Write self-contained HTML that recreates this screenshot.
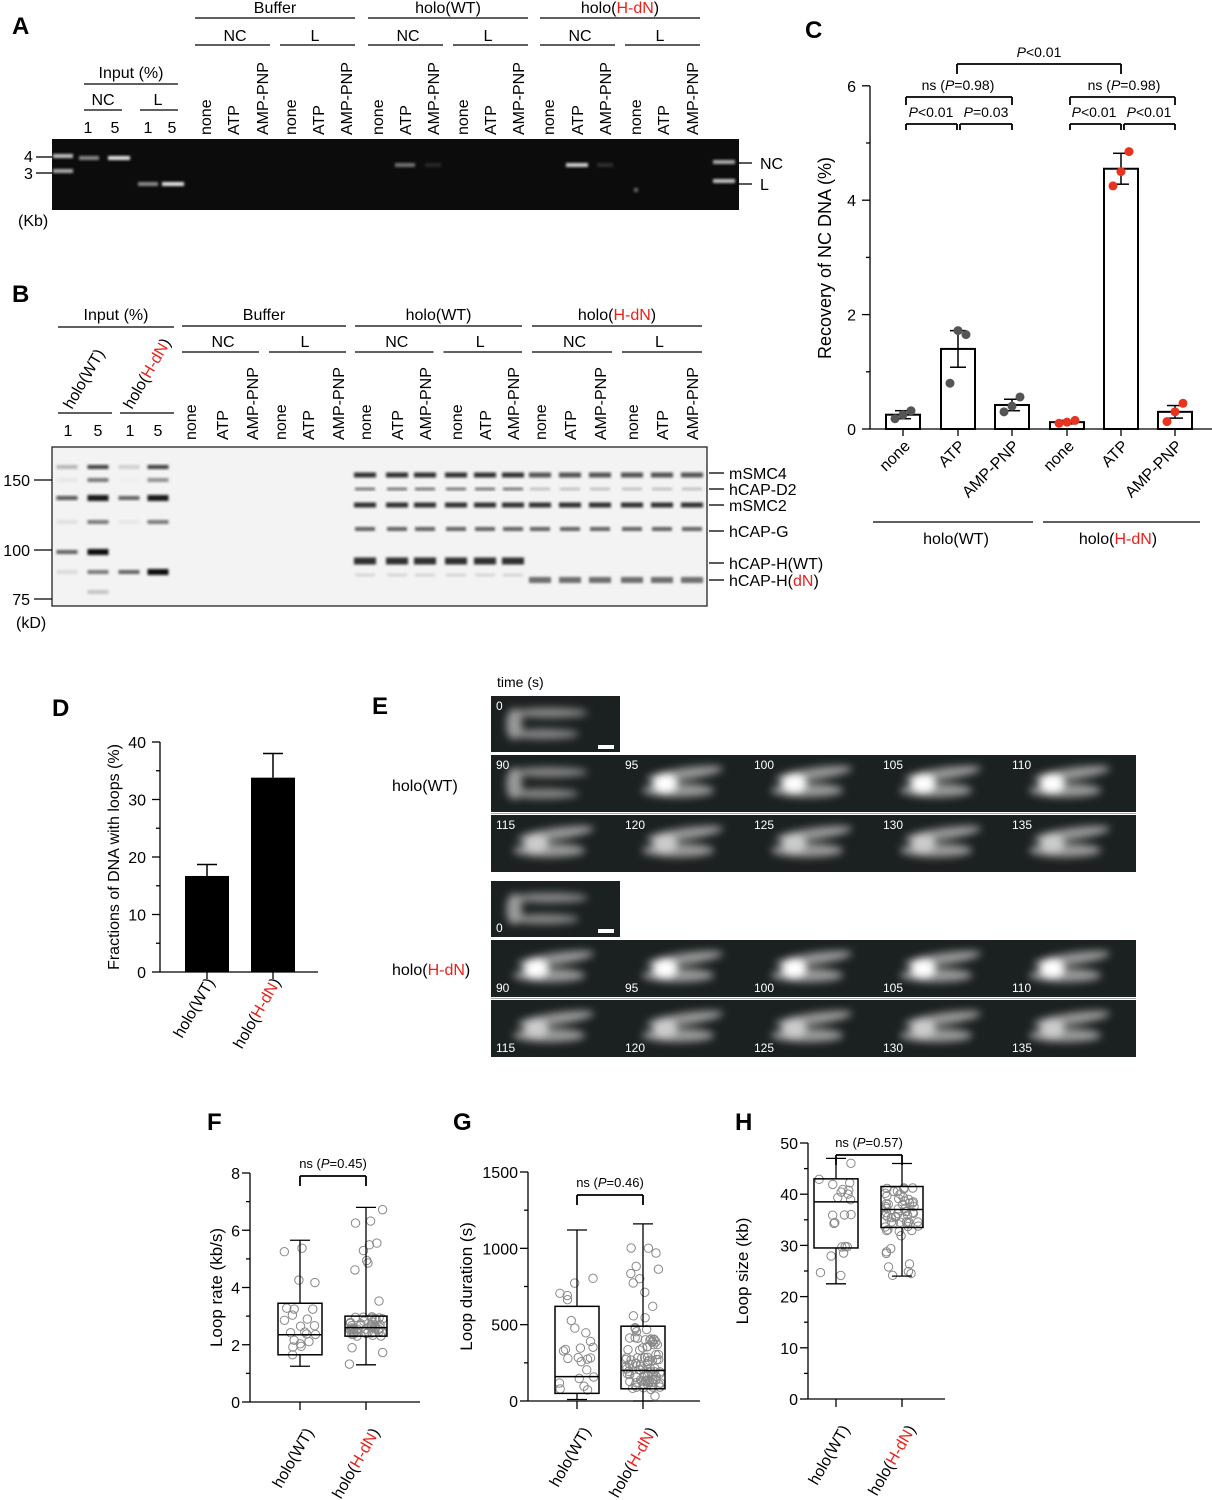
<!DOCTYPE html>
<html><head><meta charset="utf-8"><style>
html,body{margin:0;padding:0;background:#fff}
svg{display:block;font-family:"Liberation Sans",Arial,sans-serif}
</style></head><body>
<svg id="s" width="1212" height="1500" viewBox="0 0 1212 1500" xmlns="http://www.w3.org/2000/svg">
<defs>
<filter id="bl" x="-50%" y="-50%" width="200%" height="200%"><feGaussianBlur stdDeviation="1.4"/></filter>
<filter id="bl2" x="-50%" y="-50%" width="200%" height="200%"><feGaussianBlur stdDeviation="4"/></filter>
</defs>
<g font-size="24" font-weight="bold">
<text x="12" y="34">A</text><text x="12" y="302">B</text><text x="805" y="38">C</text>
<text x="52" y="716">D</text><text x="372" y="714">E</text>
<text x="207" y="1130">F</text><text x="453" y="1130">G</text><text x="735" y="1130">H</text>
</g>
<g id="g"></g>
</svg>
<script>
const NS="http://www.w3.org/2000/svg";const G=document.getElementById('g');
function el(t,a,txt,p){const e=document.createElementNS(NS,t);for(const k in a)e.setAttribute(k,a[k]);if(txt!==undefined)e.innerHTML=txt;(p||G).appendChild(e);return e;}
function line(x1,y1,x2,y2,w,c){el('line',{x1,y1,x2,y2,stroke:c||'#000','stroke-width':w||1.3});}
function text(x,y,s,fs,anc,extra){const a={x,y,'font-size':fs||16,'text-anchor':anc||'start'};Object.assign(a,extra||{});return el('text',a,s);}
function vtext(x,y,s,fs,anc){return el('text',{x:0,y:0,'font-size':fs||16,'text-anchor':anc||'start',transform:`translate(${x},${y}) rotate(-90)`},s);}
function rtext(x,y,s,fs,ang,anc){return el('text',{x:0,y:0,'font-size':fs||16,'text-anchor':anc||'end',transform:`translate(${x},${y}) rotate(${ang})`},s);}
const R='<tspan fill="#e8221b">';
// ===== Panel A =====
const lanesA=[205,233,262,290,318,346,377,405,433,462,490,518,548,577,605,635,663,692];
const nm=['none','ATP','AMP-PNP'];
lanesA.forEach((x,i)=>vtext(x+6,135,nm[i%3],16));
[[195,355,'Buffer'],[368,528,'holo(WT)'],[540,700,'holo('+R+'H-dN</tspan>)']].forEach(([a,b,s])=>{line(a,18,b,18);text((a+b)/2,13,s,16,'middle');
 const m=(a+b)/2;line(a,45,m-5,45);line(m+5,45,b,45);text((a+m)/2,41,'NC',16,'middle');text((m+b)/2,41,'L',16,'middle');});
text(131,78,'Input (%)',16,'middle');line(84,84,178,84);line(84,110,122,110);line(140,110,178,110);
text(103,105,'NC',16,'middle');text(158,105,'L',16,'middle');
[[88,'1'],[115,'5'],[148,'1'],[172,'5']].forEach(([x,s])=>text(x,133,s,16,'middle'));
el('rect',{x:52,y:139,width:687,height:71,fill:'#0c0c0c'});
function bandA(x,y,w,op){el('rect',{x:x-w/2,y:y-2,width:w,height:4,fill:`rgba(240,240,240,${op})`,filter:'url(#bl)'});}
bandA(63,156,20,.8);bandA(63,171,20,.7);bandA(89,158,20,.55);bandA(119,158,22,.95);bandA(148,184,20,.55);bandA(173,184,22,.95);
bandA(405,165,20,.45);bandA(433,165,16,.12);bandA(577,165,22,.85);bandA(605,165,16,.15);bandA(724,162,22,.7);bandA(724,181,22,.8);bandA(636,190,4,.4);
text(24,162,'4',16);text(24,179,'3',16);line(36,157,52,157);line(36,173,52,173);text(18,226,'(Kb)',16);
line(739,163,752,163);line(739,184,752,184);text(760,169,'NC',16);text(760,190,'L',16);
// ===== Panel B =====
text(116,320,'Input (%)',16,'middle');line(58,327,174,327);
rtext(72,410,'holo(WT)',16,-60,'start');rtext(132,410,'holo('+R+'H-dN</tspan>)',16,-60,'start');
line(58,413,112,413);line(120,413,174,413);
[[68,'1'],[98,'5'],[130,'1'],[158,'5']].forEach(([x,s])=>text(x,436,s,16,'middle'));
const lanesB=[190,222,252,280,308,338,365,397,425,456,485,513,540,570,600,632,662,692];
lanesB.forEach((x,i)=>vtext(x+6,440,nm[i%3],16));
[[182,346,'Buffer'],[355,522,'holo(WT)'],[532,702,'holo('+R+'H-dN</tspan>)']].forEach(([a,b,s])=>{line(a,326,b,326);text((a+b)/2,320,s,16,'middle');
 const m=(a+b)/2;line(a,352,m-5,352);line(m+5,352,b,352);text((a+m)/2,347,'NC',16,'middle');text((m+b)/2,347,'L',16,'middle');});
el('rect',{x:52,y:447,width:655,height:159,fill:'#f3f3f3',stroke:'#222','stroke-width':1.3});
function bandB(x,y,w,op,h){el('rect',{x:x-w/2,y:y-(h||4)/2,width:w,height:h||4,fill:`rgba(10,10,10,${op})`,filter:'url(#bl)'});}
[[467,.25,.8,.15,.8],[480,.05,.5,.02,.4],[498,.7,.95,.6,.95],[522,.08,.5,.05,.5],[552,.6,1,0,0],[572,.1,.5,.6,1],[592,0,.2,0,0]].forEach(([y,a,b,c,d])=>{
 [[67,a],[98,b],[129,c],[158,d]].forEach(([x,o])=>{if(o>0)bandB(x,y,21,o,o>.9?6:4)});});
lanesB.slice(6).forEach((x,i)=>{const wt=i<6;
 bandB(x,475,22,wt?.85:.7,5);bandB(x,489,20,wt?.5:.2,3);bandB(x,505,22,.85,5);bandB(x,529,20,.6,4);
 if(wt){bandB(x,561,22,.85,7);bandB(x,575,20,.12,3);}else{bandB(x,580,22,.55,6);}});
[[150,480],[100,550],[75,599]].forEach(([v,y])=>{text(30,y+6,v,16,'end');line(34,y,52,y);});
text(16,628,'(kD)',16);
[['mSMC4',473],['hCAP-D2',489],['mSMC2',505],['hCAP-G',531],['hCAP-H(WT)',563],['hCAP-H('+R+'dN</tspan>)',580]].forEach(([s,y])=>{line(709,y,724,y);text(729,y+6,s,16);});
// ===== Panel C =====
const cy0=429,cs=57.2,cax=870;
line(cax,86,cax,cy0);line(cax,cy0,1212,cy0);
[0,2,4,6].forEach(v=>{const y=cy0-v*cs;line(cax-8,y,cax,y);text(cax-14,y+6,v,16,'end');});
[1,3,5].forEach(v=>{const y=cy0-v*cs;line(cax-4,y,cax,y);});
el('text',{x:0,y:0,'font-size':18,'text-anchor':'middle',transform:'translate(831,258) rotate(-90)'},'Recovery of NC DNA (%)');
const cx=[903,958,1012,1067,1121,1175],cv=[0.25,1.4,0.42,0.12,4.55,0.3],ce=[0.07,0.32,0.1,0.03,0.27,0.11];
const cpts=[[0.18,0.25,0.32],[0.8,1.72,1.65],[0.3,0.4,0.56],[0.1,0.12,0.15],[4.25,4.5,4.85],[0.13,0.3,0.45]];
cx.forEach((x,i)=>{const y=cy0-cv[i]*cs;el('rect',{x:x-17,y,width:34,height:cy0-y,fill:'#fff',stroke:'#000','stroke-width':2});
 const e=ce[i]*cs;line(x,y-e,x,y+e,1.5);line(x-8,y-e,x+8,y-e,1.5);line(x-8,y+e,x+8,y+e,1.5);
 const col=i<3?'#555':'#e8331f';cpts[i].forEach((v,j)=>el('circle',{cx:x+(j-1)*8,cy:cy0-v*cs,r:4.5,fill:col}));
 line(x,cy0,x,cy0+7);
 rtext(x+8,cy0+18,nm[i%3],16,-45);});
line(873,522,1033,522);line(1043,522,1200,522);
text(956,544,'holo(WT)',16,'middle');text(1118,544,'holo('+R+'H-dN</tspan>)',16,'middle');
function brk(x1,x2,y,h){line(x1,y,x2,y,1.8);line(x1,y,x1,y+h,1.8);line(x2,y,x2,y+h,1.8);}
brk(957,1121,64,10);text(1039,57,'<tspan font-style="italic">P</tspan>&lt;0.01',14,'middle');
brk(906,1012,97,8);text(958,90,'ns (<tspan font-style="italic">P</tspan>=0.98)',14,'middle');
brk(906,957,124,6);brk(960,1012,124,6);text(931,117,'<tspan font-style="italic">P</tspan>&lt;0.01',14,'middle');text(986,117,'<tspan font-style="italic">P</tspan>=0.03',14,'middle');
brk(1070,1175,97,8);text(1124,90,'ns (<tspan font-style="italic">P</tspan>=0.98)',14,'middle');
brk(1070,1121,124,6);brk(1124,1175,124,6);text(1094,117,'<tspan font-style="italic">P</tspan>&lt;0.01',14,'middle');text(1149,117,'<tspan font-style="italic">P</tspan>&lt;0.01',14,'middle');
// ===== Panel D =====
const dy0=972,ds=5.75;
line(160,742,160,dy0);line(160,dy0,318,dy0);
[0,10,20,30,40].forEach(v=>{const y=dy0-v*ds;line(152,y,160,y);text(146,y+6,v,16,'end');});
[5,15,25,35].forEach(v=>{const y=dy0-v*ds;line(156,y,160,y);});
el('text',{x:0,y:0,'font-size':16,'text-anchor':'middle',transform:'translate(119,857) rotate(-90)'},'Fractions of DNA with loops (%)');
[[207,16.7,2],[273,33.8,4.2]].forEach(([x,v,e])=>{const y=dy0-v*ds;el('rect',{x:x-22,y,width:44,height:dy0-y,fill:'#000'});
 line(x,y,x,y-e*ds,1.5);line(x-10,y-e*ds,x+10,y-e*ds,1.5);line(x,dy0,x,dy0+7);});
rtext(215,982,'holo(WT)',16,-60);rtext(281,982,'holo('+R+'H-dN</tspan>)',16,-60);
// ===== Panel E =====
text(497,687,'time (s)',14);
text(392,791,'holo(WT)',16);text(392,975,'holo('+R+'H-dN</tspan>)',16);
let seed=7;function rnd(){seed=(seed*16807)%2147483647;return seed/2147483647;}
function tile(x,y,w,h,lab,labBottom,kind){el('rect',{x,y,width:w,height:h,fill:'#1b2020'});
 const g=el('g',{filter:'url(#bl2)'});
 if(kind===0){el('ellipse',{cx:x+w*0.45,cy:y+h*0.3,rx:w*0.3,ry:5,fill:'#888'},undefined,g);el('ellipse',{cx:x+w*0.4,cy:y+h*0.68,rx:w*0.28,ry:5,fill:'#888'},undefined,g);el('ellipse',{cx:x+w*0.18,cy:y+h*0.5,rx:8,ry:h*0.28,fill:'#999'},undefined,g);}
 else{el('ellipse',{cx:x+w*0.5,cy:y+h*0.33,rx:w*0.3,ry:6,fill:'#999',transform:`rotate(-8 ${x+w*.5} ${y+h*.33})`},undefined,g);
  el('ellipse',{cx:x+w*0.45,cy:y+h*0.62,rx:w*0.28,ry:7,fill:'#999'},undefined,g);
  el('ellipse',{cx:x+w*0.35,cy:y+h*0.5,rx:12,ry:9,fill:kind===2?'#fff':'#ccc'},undefined,g);}
 text(x+5,labBottom?y+h-5:y+14,lab,12,'start',{fill:'#fff'});}
tile(491,696,129,56,'0',false,0);el('rect',{x:598,y:745,width:16,height:4,fill:'#fff'});
const W=129;
[90,95,100,105,110].forEach((t,i)=>tile(491+i*W,755,W,57,t,false,i==0?0:2));
[115,120,125,130,135].forEach((t,i)=>tile(491+i*W,815,W,57,t,false,1));
tile(491,881,129,56,'0',true,0);el('rect',{x:598,y:929,width:16,height:4,fill:'#fff'});
[90,95,100,105,110].forEach((t,i)=>tile(491+i*W,940,W,57,t,true,2));
[115,120,125,130,135].forEach((t,i)=>tile(491+i*W,1000,W,57,t,true,1));
el('line',{x1:491,y1:813.5,x2:1136,y2:813.5,stroke:'#aaa','stroke-width':1});
el('line',{x1:491,y1:998.5,x2:1136,y2:998.5,stroke:'#aaa','stroke-width':1});
// ===== Box plots =====
function box(ax,ytop,ybot,vmax,ticks,minor,ylab,labx,xr,boxes,pv,bry){
 const sc=(ybot-ytop)/vmax,Y=v=>ybot-v*sc;
 line(ax,ytop,ax,ybot);line(ax,ybot,xr,ybot);
 ticks.forEach(v=>{line(ax-8,Y(v),ax,Y(v));text(ax-10,Y(v)+6,v,16,'end');});
 minor.forEach(v=>line(ax-4,Y(v),ax,Y(v)));
 el('text',{x:0,y:0,'font-size':17,'text-anchor':'middle',transform:`translate(${labx},${(ytop+ybot)/2}) rotate(-90)`},ylab);
 boxes.forEach(([x,mn,q1,md,q3,mx,n,hw])=>{
  for(let i=0;i<n;i++){let u=rnd(),v;if(u<.5)v=q1+(md-q1)*2*u;else v=md+(q3-md)*2*(u-.5);if(rnd()<.35)v=mn+(mx-mn)*rnd();
   el('circle',{cx:x+(rnd()-.5)*hw*1.6,cy:Y(v),r:4.2,fill:'none',stroke:'#888','stroke-width':1});}
  el('rect',{x:x-hw,y:Y(q3),width:2*hw,height:Y(q1)-Y(q3),fill:'none',stroke:'#000','stroke-width':1.5});
  line(x-hw,Y(md),x+hw,Y(md),1.5);line(x,Y(q3),x,Y(mx),1.3);line(x,Y(q1),x,Y(mn),1.3);
  line(x-10,Y(mx),x+10,Y(mx),1.3);line(x-10,Y(mn),x+10,Y(mn),1.3);line(x,ybot,x,ybot+8);});
 brk(boxes[0][0],boxes[1][0],bry,10);
 text((boxes[0][0]+boxes[1][0])/2,bry-8,'ns (<tspan font-style="italic">P</tspan>='+pv+')',13,'middle');
 rtext(boxes[0][0]+14,ybot+30,'holo(WT)',16,-60);rtext(boxes[1][0]+14,ybot+30,'holo('+R+'H-dN</tspan>)',16,-60);}
box(250,1173,1402,8,[0,2,4,6,8],[1,3,5,7],'Loop rate (kb/s)',222,420,[[300,1.25,1.65,2.35,3.45,5.65,22,22],[366,1.3,2.3,2.6,3.0,6.8,60,21]],'0.45',1176);
box(528,1172,1401,1500,[0,500,1000,1500],[250,750,1250],'Loop duration (s)',472,700,[[577,10,50,160,620,1120,25,22],[643,0,80,200,490,1160,100,22]],'0.46',1195);
box(808,1143,1399,50,[0,10,20,30,40,50],[5,15,25,35,45],'Loop size (kb)',748,945,[[836,22.5,29.5,38.5,43,47,22,22],[902,24,33.5,37,41.5,46,60,21]],'0.57',1155);
</script>
</body></html>
